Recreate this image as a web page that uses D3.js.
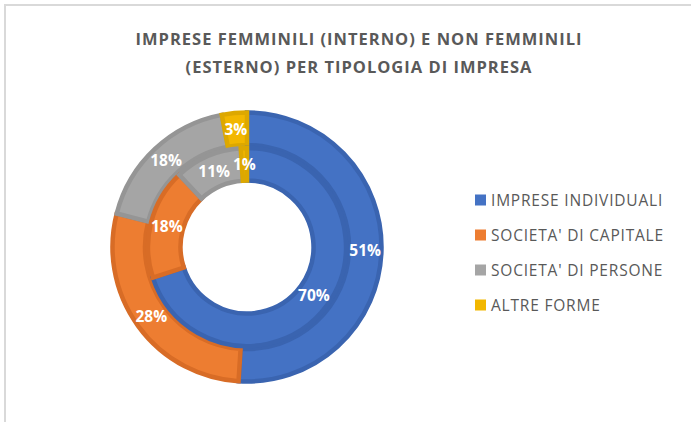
<!DOCTYPE html>
<html>
<head>
<meta charset="utf-8">
<script src="https://cdn.jsdelivr.net/npm/d3@7"></script>
<style>
  html, body { margin: 0; padding: 0; background: #fff; }
  svg { display: block; }
</style>
</head>
<body>
<svg id="chart" width="691" height="422"></svg>
<script>
const titleLines = ["IMPRESE FEMMINILI (INTERNO) E NON FEMMINILI", "(ESTERNO) PER TIPOLOGIA DI IMPRESA"];
const categories = ["IMPRESE INDIVIDUALI", "SOCIETA' DI CAPITALE", "SOCIETA' DI PERSONE", "ALTRE FORME"];
const innerValues = [70, 18, 11, 1];   // imprese femminili (interno)
const outerValues = [51, 28, 18, 3];   // imprese non femminili (esterno)
const colors = ["#4472C4", "#ED7D31", "#A5A5A5", "#F2B700"];
const borderColors = ["#3A64B0", "#D86C26", "#959595", "#DDA800"];

const svg = d3.select("#chart");

// frame lines (top and left)
svg.append("rect").attr("x", 5).attr("y", 5).attr("width", 700).attr("height", 430)
  .attr("fill", "none").attr("stroke", "#d9d9d9").attr("stroke-width", 2);

// title
const title = svg.append("text")
  .attr("text-anchor", "middle")
  .attr("font-family", "'Open Sans', sans-serif")
  .attr("font-weight", 700)
  .attr("font-size", 16.5)
  .attr("letter-spacing", 1)
  .attr("fill", "#595959");
titleLines.forEach((t, i) => {
  title.append("tspan").attr("x", 359).attr("y", 45 + i * 28).text(t);
});

const cx = 247, cy = 247;
const rHole = 65, rMid = 100.5, rOuter = 136;

const pie = d3.pie().sort(null).value(d => d);
const g = svg.append("g").attr("transform", `translate(${cx},${cy})`);

function ring(values, r0, r1, cls) {
  const arc = d3.arc().innerRadius(r0 + 1.5).outerRadius(r1 - 1.5);
  const arcs = pie(values);
  const grp = g.append("g").attr("class", cls);
  grp.selectAll("path").data(arcs).enter().append("path")
    .attr("d", arc)
    .attr("fill", (d, i) => colors[i])
    .attr("stroke", (d, i) => borderColors[i])
    .attr("stroke-width", 4.5)
    .attr("stroke-linejoin", "miter");
  return { grp, arcs, labelArc: d3.arc().innerRadius(r0).outerRadius(r1) };
}
const rings = [ring(outerValues, rMid, rOuter, "outer"), ring(innerValues, rHole, rMid, "inner")];
rings.forEach(({ grp, arcs, labelArc }) => {
  grp.selectAll("text").data(arcs).enter().append("text")
    .attr("transform", d => `translate(${labelArc.centroid(d)})`)
    .attr("text-anchor", "middle")
    .attr("dy", "0.36em")
    .attr("font-family", "'Open Sans', sans-serif")
    .attr("font-weight", 700)
    .attr("font-size", 15.5)
    .attr("fill", "#fff")
    .text(d => d.data + "%");
});

// legend
const legendY = d3.scalePoint().domain(categories).range([200, 305]);
const leg = svg.append("g");
const items = leg.selectAll("g").data(categories).enter().append("g")
  .attr("transform", d => `translate(475,${legendY(d)})`);
items.append("rect").attr("x", 0).attr("y", -5.5).attr("width", 11).attr("height", 11)
  .attr("fill", (d, i) => colors[i]);
items.append("text").attr("x", 16).attr("dy", "0.36em")
  .attr("font-family", "'Open Sans', sans-serif")
  .attr("font-size", 15.5)
  .attr("letter-spacing", 0.8)
  .attr("fill", "#595959")
  .text(d => d);
</script>
</body>
</html>
